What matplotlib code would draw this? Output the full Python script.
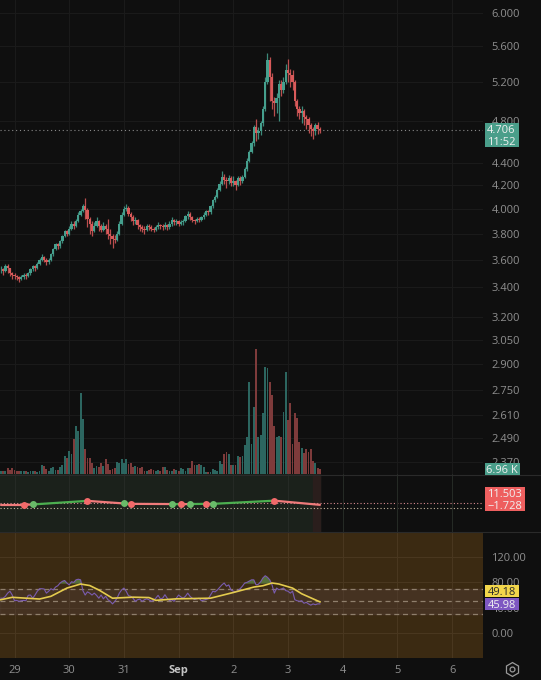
"""Hourly candles with volume, MACD-style strip and RSI pane, dark trading-chart look."""

import matplotlib

matplotlib.use("Agg")
import matplotlib.pyplot as plt
import numpy as np
from matplotlib.patches import Rectangle

W, H = 541, 680
BG = "#0f0f0f"
GRID = "#1b1b1b"
TXT = "#8f8f8f"
UP = "#459f8d"
DOWN = "#d95a5a"

# first candle sits 6 hours before Aug 29 00:00; x is days since then
FIRST_HOUR = -6
closes = [3.53, 3.52, 3.55, 3.54, 3.50, 3.49,
          3.48, 3.47, 3.46, 3.47, 3.49, 3.48, 3.50, 3.53, 3.55, 3.54, 3.57, 3.60,
          3.62, 3.60, 3.58, 3.60, 3.64, 3.68, 3.72, 3.70, 3.74, 3.78, 3.82, 3.80,
          3.84, 3.88, 3.86, 3.90, 3.95, 3.98, 4.02, 3.99, 3.92, 3.88, 3.82, 3.86,
          3.90, 3.86, 3.83, 3.86, 3.84, 3.80, 3.78, 3.76, 3.75, 3.80, 3.88, 3.95,
          4.00, 4.01, 3.96, 3.93, 3.90, 3.91, 3.87, 3.85, 3.84, 3.83, 3.86, 3.85,
          3.84, 3.83, 3.85, 3.87, 3.86, 3.85, 3.87, 3.85, 3.88, 3.91, 3.89, 3.90,
          3.88, 3.89, 3.90, 3.94, 3.96, 3.93, 3.91, 3.90, 3.92, 3.91, 3.93, 3.95,
          3.98, 3.97, 4.02, 4.07, 4.10, 4.16, 4.21, 4.27, 4.25, 4.24, 4.26, 4.22,
          4.24, 4.20, 4.26, 4.24, 4.27, 4.34, 4.42, 4.50, 4.58, 4.74, 4.68, 4.70,
          4.78, 4.92, 5.20, 5.44, 5.25, 5.00, 4.98, 5.03, 5.18, 5.12, 5.20, 5.33,
          5.30, 5.28, 5.20, 5.00, 4.92, 4.88, 4.90, 4.84, 4.82, 4.76, 4.72, 4.70,
          4.76, 4.72, 4.706]
highs = [3.55, 3.54, 3.57, 3.57, 3.54, 3.51,
         3.50, 3.49, 3.48, 3.49, 3.50, 3.50, 3.51, 3.54, 3.56, 3.56, 3.58, 3.61,
         3.64, 3.63, 3.61, 3.61, 3.65, 3.69, 3.73, 3.73, 3.75, 3.79, 3.83, 3.83,
         3.86, 3.90, 3.90, 3.92, 3.97, 4.00, 4.04, 4.09, 4.01, 3.93, 3.90, 3.89,
         3.93, 3.91, 3.88, 3.89, 3.88, 3.92, 3.84, 3.80, 3.79, 3.82, 3.90, 3.97,
         4.02, 4.04, 4.02, 3.97, 3.95, 3.93, 3.92, 3.88, 3.87, 3.86, 3.88, 3.88,
         3.87, 3.85, 3.87, 3.89, 3.88, 3.88, 3.89, 3.88, 3.90, 3.93, 3.92, 3.92,
         3.91, 3.91, 3.92, 3.95, 3.98, 3.97, 3.94, 3.92, 3.93, 3.93, 3.94, 3.97,
         3.99, 3.99, 4.03, 4.08, 4.12, 4.18, 4.24, 4.33, 4.30, 4.27, 4.29, 4.28,
         4.28, 4.25, 4.28, 4.28, 4.29, 4.36, 4.44, 4.52, 4.60, 4.76, 4.82, 4.74,
         4.80, 4.95, 5.25, 5.52, 5.48, 5.30, 5.04, 5.08, 5.22, 5.22, 5.25, 5.40,
         5.46, 5.34, 5.33, 5.22, 5.02, 4.95, 4.95, 4.92, 4.86, 4.84, 4.78, 4.74,
         4.78, 4.79, 4.74]
lows = [3.50, 3.49, 3.51, 3.50, 3.48, 3.46,
        3.46, 3.45, 3.44, 3.45, 3.46, 3.46, 3.47, 3.49, 3.52, 3.52, 3.53, 3.56,
        3.59, 3.58, 3.56, 3.57, 3.59, 3.63, 3.67, 3.68, 3.69, 3.73, 3.77, 3.78,
        3.79, 3.83, 3.84, 3.85, 3.89, 3.94, 3.97, 3.92, 3.85, 3.80, 3.78, 3.81,
        3.85, 3.82, 3.81, 3.82, 3.80, 3.76, 3.72, 3.69, 3.73, 3.74, 3.79, 3.87,
        3.94, 3.98, 3.94, 3.90, 3.87, 3.88, 3.84, 3.82, 3.81, 3.80, 3.82, 3.83,
        3.82, 3.81, 3.82, 3.84, 3.84, 3.83, 3.84, 3.83, 3.84, 3.86, 3.87, 3.87,
        3.86, 3.87, 3.87, 3.89, 3.92, 3.91, 3.89, 3.88, 3.89, 3.89, 3.90, 3.92,
        3.94, 3.95, 3.96, 4.01, 4.06, 4.09, 4.15, 4.20, 4.21, 4.18, 4.21, 4.19,
        4.19, 4.16, 4.19, 4.20, 4.22, 4.26, 4.33, 4.41, 4.49, 4.56, 4.60, 4.62,
        4.66, 4.75, 4.90, 5.18, 5.00, 4.92, 4.85, 4.88, 4.80, 5.05, 5.08, 5.18,
        5.20, 5.15, 5.12, 4.95, 4.85, 4.82, 4.78, 4.76, 4.72, 4.68, 4.65, 4.62,
        4.66, 4.67, 4.68]
# volume in thousands
volumes = [4.2, 4.2, 4.2, 8.4, 5.6, 8.4,
           5.6, 4.2, 4.2, 4.2, 4.2, 4.2, 2.8, 4.2, 4.2, 4.2, 2.8, 4.2,
           13, 11, 7, 4.2, 8.4, 9.8, 5.6, 5.6, 9.8, 13, 25, 22,
           32, 28, 49, 67, 60, 113, 77, 35, 22, 22, 15, 8.4,
           11, 9.8, 15, 11, 21, 14, 5.6, 7, 8.4, 17, 15, 21,
           15, 21, 14, 15, 9.8, 11, 9.8, 8.4, 9.8, 4.2, 4.2, 5.6,
           7, 5.6, 4.2, 5.6, 4.2, 9.8, 9.8, 5.6, 4.2, 4.2, 7, 5.6, 4.2,
           8.4, 7, 4.2, 8.4, 8.4, 18, 13, 13, 14, 13, 9.8,
           2.8, 2.8, 2.8, 7, 5.6, 4.2, 18, 14, 28, 31, 28,
           13, 13, 13, 25, 24, 25, 41, 52, 129, 42, 94, 175,
           52, 55, 85, 150, 148, 129, 111, 67, 52, 53, 52, 87,
           143, 76, 99, 42, 85, 78, 45, 36, 29, 35, 31, 35,
           18, 15, 8.4, 7]
rsi = [55, 55, 58, 63, 66, 60,
       51, 51.5, 50, 51, 51.5, 51, 59.5, 60, 55, 60, 66, 70,
       70, 69.5, 63, 66, 70, 68, 72.6, 74.7, 79, 81.6, 83, 79,
       76, 81, 80, 84, 85, 84, 67,
       60, 65, 63, 60, 63, 59.5, 55, 60, 54, 58, 52.6, 50, 46, 50, 55, 63, 68,
       71, 66, 59, 58, 55, 50, 52.6, 53.5, 50, 52.6, 54, 52.6, 50,
       51.5, 55, 59.5, 54, 55, 60.5, 55, 51, 52.6, 50, 55, 60,
       57, 55, 58, 63, 58, 55, 53, 54, 55, 51, 52, 53,
       54, 60, 66, 65, 68, 72, 76, 79, 74, 76, 68, 66,
       65, 67, 70, 74, 79, 80, 82, 84, 84, 76, 77, 81,
       87, 90.5, 88, 84, 76, 63, 71, 68.4, 69.5, 71, 67,
       66, 63, 66, 52.6, 51, 50, 51, 47, 48.4, 46, 44, 46, 44.7, 46, 46]
rsi_ma_hours = [-6, -1, 11, 16, 23, 29, 33, 37, 43, 52, 59, 62, 71, 86, 96, 105, 109, 113, 116, 122, 126, 134]
rsi_ma = [52.6, 56.4, 53.7, 58, 71, 77.4, 75, 68, 55, 56.6, 56, 51.6, 54, 55, 64, 72.6, 74.7, 79, 77.4, 71, 62, 49.18]
macd_hours = [-6, 4, 8, 32, 48, 51, 69, 73, 77, 84, 87, 114, 134]
macd = [6.5, 6.5, 7.5, 16.5, 10, 9, 8.5, 8, 8.5, 9, 9, 17, 6.5]
cross_green = [8, 48, 69, 77, 87]
cross_red = [4, 32, 51, 73, 84, 114]

last_price = 4.706
macd_lines = [11.503, -1.728]
day_labels = ["29", "30", "31", "Sep", "2", "3", "4", "5", "6"]
price_ticks = [6.0, 5.6, 5.2, 4.8, 4.4, 4.2, 4.0, 3.8, 3.6, 3.4, 3.2, 3.05, 2.9, 2.75, 2.61, 2.49, 2.37]
rsi_ticks = [120, 80, 40, 0]


def pane(top, bottom):
    # pixel rows -> axes in figure coordinates
    ax = fig.add_axes([0, 1 - bottom / H, PLOT_RIGHT / W, (bottom - top) / H])
    ax.set_xlim(XLIM)
    ax.set_xticks(range(len(day_labels)))
    ax.set_xticklabels([])
    ax.tick_params(length=0, labelsize=8, labelcolor=TXT)
    ax.yaxis.tick_right()
    ax.set_facecolor(BG)
    for s in ax.spines.values():
        s.set_visible(False)
    return ax


def tag(x0, y0, x1, y1, color, lines, txt_color="#f0f0f0"):
    # value tag on the price scale, given in pixels
    fig.add_artist(Rectangle((x0 / W, 1 - y1 / H), (x1 - x0) / W, (y1 - y0) / H,
                             transform=fig.transFigure, fc=color, ec="none", zorder=5))
    step = (y1 - y0) / len(lines)
    for k, s in enumerate(lines):
        fig.text((x0 + x1) / 2 / W, 1 - (y0 + step * (k + 0.5)) / H, s, color=txt_color, fontsize=8,
                 ha="center", va="center_baseline", zorder=6)


plt.rcParams["font.family"] = ["Open Sans", "DejaVu Sans"]
fig = plt.figure(figsize=(W / 100, H / 100), dpi=100, facecolor=BG)
PLOT_RIGHT = 483
XLIM = (-14.5 / 54.7, (PLOT_RIGHT - 14.5) / 54.7)

hours = np.arange(len(closes)) + FIRST_HOUR
x = hours / 24
closes = np.array(closes)
opens = np.r_[closes[0], closes[:-1]]
colors = [UP if c >= o else DOWN for o, c in zip(opens, closes)]

# price pane, log scale
ax = pane(0, 474)
ax.set_yscale("log")
ax.set_ylim(2.31, 6.163)
ax.minorticks_off()
ax.set_yticks(price_ticks)
ax.set_yticklabels([f"{t:.3f}" for t in price_ticks])
ax.tick_params(axis="y", pad=6)
ax.grid(color=GRID, lw=0.7)
ax.set_axisbelow(True)
ax.vlines(x, lows, highs, color=colors, lw=0.9, alpha=0.85, zorder=3)
ax.bar(x, np.abs(closes - opens), bottom=np.minimum(opens, closes), width=1.0 / 24, color=colors, zorder=4)
ax.axhline(last_price, color="#8a8a8a", lw=0.8, ls=(0, (1, 2.5)), zorder=2)

# volume shares the price pane, twinx moves the price scale so put it back
ax_vol = ax.twinx()
ax.yaxis.tick_right()
ax_vol.set_ylim(0, 664)
ax_vol.axis("off")
vol_colors = ["#2c6660" if c == UP else "#7e3b3b" for c in colors]
ax_vol.bar(x, volumes, width=0.8 / 24, color=vol_colors)

# macd strip
ax_m = pane(474, 532)
ax_m.set_ylim(-61.7, 84)
ax_m.set_yticks([])
ax_m.grid(color="#262b26", lw=0.7)
ax_m.axvspan(XLIM[0], hours[-1] / 24 + 0.01, color="#1b211b", zorder=0)
ax_m.axvspan(hours[-1] / 24 - 0.12, hours[-1] / 24 + 0.01, color="#2a1e1c", zorder=0)
for val, col in zip(macd_lines, ["#d88a90", "#c9b9a0"]):
    ax_m.axhline(val, color=col, lw=0.8, ls=(0, (1, 2)), zorder=1)
mh = np.array(macd_hours)
for k in range(len(mh) - 1):
    col = "#4caf50" if mh[k] in cross_green else "#ef7b7b"
    ax_m.plot(mh[k:k + 2] / 24, macd[k:k + 2], color=col, lw=1.6, zorder=3, solid_capstyle="round")
ax_m.plot(np.array(cross_green) / 24, [macd[macd_hours.index(h)] for h in cross_green], "o", ms=5,
          color="#69bb69", mec="none", zorder=4)
ax_m.plot(np.array(cross_red) / 24, [macd[macd_hours.index(h)] for h in cross_red], "o", ms=5,
          color="#f26a6a", mec="none", zorder=4)

# rsi pane
ax_r = pane(532, 658)
ax_r.set_facecolor("#3b2a12")
ax_r.set_ylim(-39.5, 159.6)
ax_r.set_yticks(rsi_ticks)
ax_r.set_yticklabels([f"{t:.2f}" for t in rsi_ticks])
ax_r.tick_params(axis="y", pad=6)
ax_r.grid(color="#4a3820", lw=0.7)
ax_r.set_axisbelow(True)
ax_r.axhspan(30, 70, color="#55403a", alpha=0.4, zorder=1)
for lvl in (30, 50, 70):
    ax_r.axhline(lvl, color="#8f7f6c", lw=0.9, ls=(0, (4, 3)), zorder=2)
rsi = np.array(rsi)
ax_r.fill_between(x, 78, rsi, where=rsi > 78, interpolate=True, color="#55703a", lw=0, zorder=2)
ax_r.plot(x, rsi, color="#7a5cb0", lw=0.8, zorder=3)
ax_r.plot(np.array(rsi_ma_hours) / 24, rsi_ma, color="#e4cb4e", lw=1.2, zorder=4)
ax_r.set_xticklabels(day_labels)
ax_r.tick_params(axis="x", pad=5, labelsize=8, labelcolor=TXT)
ax_r.get_xticklabels()[3].set_fontweight("bold")
ax_r.get_xticklabels()[3].set_color("#c4c4c4")

# pane separators run across the price scale too
for y in (474.5, 532):
    fig.add_artist(plt.Line2D([0, 1], [1 - y / H] * 2, color="#2a2a2a", lw=0.8))

tag(484.5, 123, 518.5, 147, "#4a9e8a", [f"{last_price:.3f}", "11:52"])
tag(484.5, 463, 520, 475, "#4a9e8a", ["6.96 K"])
tag(484.5, 487, 525, 511, "#ee5f5f", [f"{macd_lines[0]:.3f}", f"−{abs(macd_lines[1]):.3f}"])
tag(485, 585, 519, 596.5, "#f2d64b", ["49.18"], txt_color="#2a2a2a")
tag(485, 598, 519, 610, "#7e57c2", ["45.98"])

# settings button
fig.add_artist(plt.Line2D([512 / W], [1 - 669 / H], marker="h", ms=10, mfc="none", mec="#9a9a9a", mew=0.9))
fig.add_artist(plt.Line2D([512 / W], [1 - 669 / H], marker="o", ms=3.5, mfc="none", mec="#9a9a9a", mew=0.9))

fig.savefig("out.png", dpi=100, facecolor=BG)
